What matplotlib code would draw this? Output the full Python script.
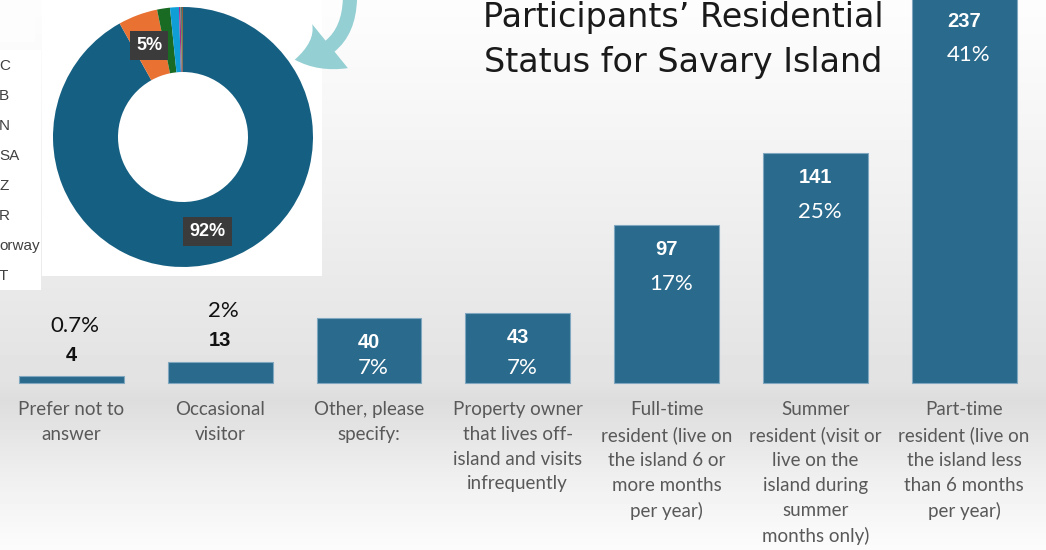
import numpy as np
import matplotlib
matplotlib.use("Agg")
import matplotlib.pyplot as plt
from matplotlib.patches import Rectangle, FancyArrowPatch

# bar chart data
categories = [
    "Prefer not to\nanswer",
    "Occasional\nvisitor",
    "Other, please\nspecify:",
    "Property owner\nthat lives off-\nisland and visits\ninfrequently",
    "Full-time\nresident (live on\nthe island 6 or\nmore months\nper year)",
    "Summer\nresident (visit or\nlive on the\nisland during\nsummer\nmonths only)",
    "Part-time\nresident (live on\nthe island less\nthan 6 months\nper year)",
]
counts = [4, 13, 40, 43, 97, 141, 237]
pct_labels = ["0.7%", "2%", "7%", "7%", "17%", "25%", "41%"]

# donut inset data (legend is cut off in the original)
donut_share = [91.9, 4.9, 1.6, 1.1, 0.2, 0.1, 0.1, 0.1]
donut_colors = ["#156082", "#E97132", "#196B24", "#0F9ED5",
                "#A02B93", "#4EA72E", "#0B3041", "#8A3A12"]
legend_bits = ["C", "B", "N", "SA", "Z", "R", "orway", "T"]

title = "Participants\u2019 Residential\nStatus for Savary Island"

W, H = 1046, 550
fig = plt.figure(figsize=(W / 100, H / 100), dpi=100)

# background: light grey gradient, darkest along the bar baseline
bg = fig.add_axes([0, 0, 1, 1], zorder=-3)
rows = np.arange(H)
shade = np.interp(rows, [0, 100, 383, 400, 480, 550], [253, 247, 226, 221, 240, 252])
img = np.repeat(shade[:, None], 2, axis=1) / 255.0
bg.imshow(img, cmap="gray", vmin=0, vmax=1, aspect="auto", extent=[0, 1, 0, 1])
bg.set_axis_off()

ax = fig.add_axes([0, 0, 1, 1], zorder=0)
ax.patch.set_alpha(0)
x = np.arange(len(counts))
bar_color = "#2A6A8C"
ax.bar(x, counts, width=0.705, color=bar_color, edgecolor="#7fa8c0", linewidth=0.8, zorder=3)
ax.set_xlim(-0.48, 6.55)
ax.set_ylim(-102.5, 235)
ax.set_axis_off()

for i, (c, p) in enumerate(zip(counts, pct_labels)):
    if c < 20:
        ax.text(i, c + 13, str(c), ha="center", va="center", fontsize=14.5,
                fontweight="bold", family="Liberation Sans", color="#111111", zorder=4)
        ax.text(i + 0.02, c + 31, p, ha="center", va="center", fontsize=16,
                family="Lato", color="#111111", zorder=4)
    else:
        ax.text(i, c - 15, str(c), ha="center", va="center", fontsize=14.5,
                fontweight="bold", family="Liberation Sans", color="white", zorder=4)
        ax.text(i + 0.03, max(c - 36, 9), p, ha="center", va="center", fontsize=16,
                family="Lato", color="white", zorder=4)

for i, lab in enumerate(categories):
    ax.text(i, -11, lab, ha="center", va="top", fontsize=13.5, family="Lato",
            color="#595959", linespacing=1.56)

# title
fig.text(683 / W, 1 - 40 / H, title, ha="center", va="center", fontsize=24,
         family="DejaVu Sans", color="#1a1a1a", linespacing=1.45)

# white panels behind the donut and the cut-off legend
for (px, py, pw, ph, fc) in [(42, 0, 280, 276, "white"), (0, 50, 41, 240, "white"),
                             (0, 0, 35, 42, "#fdfdfd")]:
    fig.patches.append(Rectangle((px / W, 1 - (py + ph) / H), pw / W, ph / H,
                                 transform=fig.transFigure, facecolor=fc,
                                 edgecolor="none", zorder=-2))
for k, bit in enumerate(legend_bits):
    fig.text(-1 / W, 1 - (66 + 30 * k) / H, bit, ha="left", va="center",
             fontsize=11, family="Liberation Sans", color="#404040", zorder=2)

# donut inset
cx, cy, r = 183, 137, 130
dax = fig.add_axes([(cx - r) / W, 1 - (cy + r) / H, 2 * r / W, 2 * r / H], zorder=2)
wedges, texts, autotexts = dax.pie(
    donut_share, colors=donut_colors, startangle=90, counterclock=False,
    radius=1, wedgeprops=dict(width=0.5, edgecolor="none"),
    autopct=lambda v: f"{v:.0f}%" if v >= 4 else "", pctdistance=0.75)
for t in autotexts:
    t.set_color("white")
    t.set_fontweight("bold")
    t.set_fontsize(13)
    t.set_family("Liberation Sans")
    if t.get_text():
        t.set_bbox(dict(boxstyle="square,pad=0.35", facecolor="#3b3b3b", edgecolor="none"))
dax.set_aspect("equal")
dax.set_xlim(-1, 1)
dax.set_ylim(-1, 1)

# teal arrow pointing at the donut
arrow = FancyArrowPatch((350 / W, 1 + 4 / H), (292 / W, 1 - 60 / H),
                        transform=fig.transFigure,
                        connectionstyle="arc3,rad=-0.45",
                        arrowstyle="simple,head_width=2.4,head_length=1.6,tail_width=0.6",
                        mutation_scale=17, color="#93CFD3", linewidth=0, zorder=3)
fig.patches.append(arrow)

fig.savefig("out.png", dpi=100)
